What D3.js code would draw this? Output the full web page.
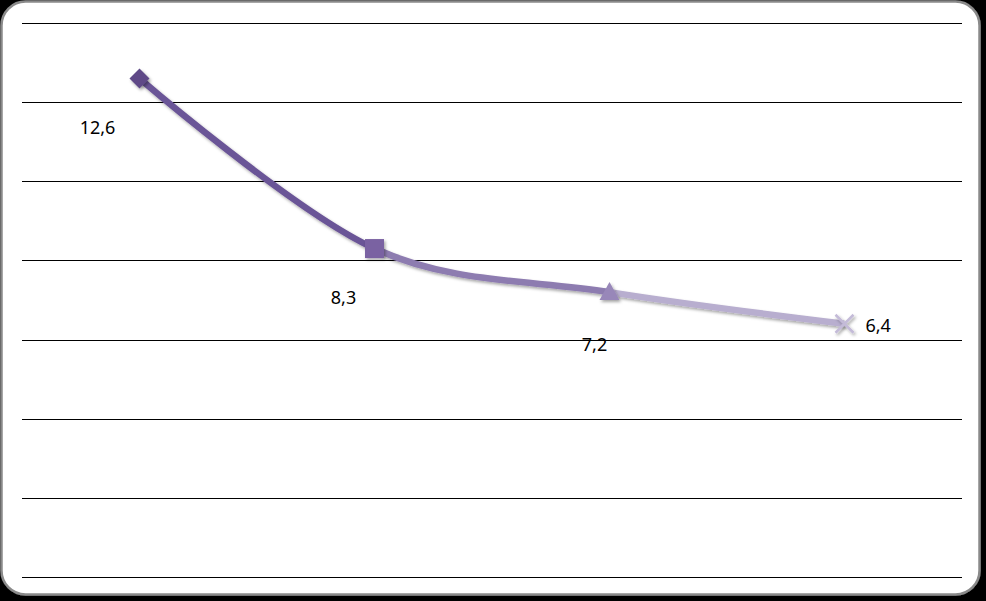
<!DOCTYPE html>
<html><head><meta charset="utf-8">
<script src="https://cdn.jsdelivr.net/npm/d3@7"></script>
<style>html,body{margin:0;padding:0;background:#000;}svg{display:block;}</style>
</head><body>
<svg id="chart" width="986" height="601"></svg>
<script>
const categories = ["1", "2", "3", "4"];
const values = [12.6, 8.3, 7.2, 6.4];
const valueLabels = ["12,6", "8,3", "7,2", "6,4"];
const yTicks = [0, 2, 4, 6, 8, 10, 12, 14];
const markerColors = ["#5e4a87", "#7a62a2", "#9887b9", "#c4bbd8"];
const segmentColors = ["#6b5497", "#8d7bb0", "#b8aecf"];
const markerTypes = ["diamond", "square", "triangle", "cross"];

const W = 986, H = 601;
const svg = d3.select("#chart");
const defs = svg.append("defs");
const sh = defs.append("filter").attr("id", "shadow").attr("x", "-20%").attr("y", "-20%").attr("width", "140%").attr("height", "140%");
sh.append("feDropShadow").attr("dx", 1.5).attr("dy", 2).attr("stdDeviation", 1.6).attr("flood-color", "#000").attr("flood-opacity", 0.35);
const fr = defs.append("filter").attr("id", "frameShadow");
fr.append("feDropShadow").attr("dx", 3).attr("dy", 3).attr("stdDeviation", 2).attr("flood-color", "#000").attr("flood-opacity", 0.8);

// frame
svg.append("rect").attr("x", 0).attr("y", 0).attr("width", W).attr("height", H).attr("fill", "#000");
svg.append("rect").attr("x", 1.5).attr("y", 1.5).attr("width", W - 8).attr("height", H - 8)
  .attr("rx", 24).attr("fill", "#fff").attr("stroke", "#8a8a8a").attr("stroke-width", 2.5)
  .attr("filter", "url(#frameShadow)");

const x = d3.scaleBand().domain(categories).range([22, 962]);
const y = d3.scaleLinear().domain([0, 14]).range([577, 23]);
const cx = c => x(c) + x.bandwidth() / 2;

// gridlines
svg.append("g").selectAll("line").data(yTicks).join("line")
  .attr("x1", 22).attr("x2", 962)
  .attr("y1", d => Math.round(y(d)) + 0.5).attr("y2", d => Math.round(y(d)) + 0.5)
  .attr("stroke", "#000").attr("stroke-width", 1);

const pts = categories.map((c, i) => [cx(c), y(values[i])]);
const lineGen = d3.line().curve(d3.curveCardinal.tension(0));
const pathD = lineGen(pts);

const lineG = svg.append("g").attr("filter", "url(#shadow)");
segmentColors.forEach((col, i) => {
  const cid = "clip" + i;
  defs.append("clipPath").attr("id", cid).append("rect")
    .attr("x", pts[i][0]).attr("y", 0).attr("width", pts[i + 1][0] - pts[i][0]).attr("height", H);
  lineG.append("path").attr("d", pathD).attr("fill", "none")
    .attr("stroke", col).attr("stroke-width", 6.5).attr("clip-path", `url(#${cid})`);
});

// markers
const mG = svg.append("g").attr("filter", "url(#shadow)");
pts.forEach((p, i) => {
  const t = markerTypes[i], col = markerColors[i];
  if (t === "diamond") {
    mG.append("path").attr("d", `M${p[0]},${p[1] - 10}L${p[0] + 10},${p[1]}L${p[0]},${p[1] + 10}L${p[0] - 10},${p[1]}Z`).attr("fill", col);
  } else if (t === "square") {
    mG.append("rect").attr("x", p[0] - 9.5).attr("y", p[1] - 9.5).attr("width", 19).attr("height", 19).attr("fill", col);
  } else if (t === "triangle") {
    mG.append("path").attr("d", `M${p[0]},${p[1] - 10}L${p[0] + 10},${p[1] + 8}L${p[0] - 10},${p[1] + 8}Z`).attr("fill", col);
  } else {
    mG.append("path").attr("d", `M${p[0] - 9},${p[1] - 9}L${p[0] + 9},${p[1] + 9}M${p[0] + 9},${p[1] - 9}L${p[0] - 9},${p[1] + 9}`)
      .attr("stroke", col).attr("stroke-width", 2.5).attr("fill", "none");
  }
});

// labels
const labelOffsets = [[-42, 56, "middle"], [-31, 55, "middle"], [-15, 59, "middle"], [21, 8, "start"]];
svg.append("g").selectAll("text").data(valueLabels).join("text")
  .attr("x", (d, i) => pts[i][0] + labelOffsets[i][0])
  .attr("y", (d, i) => pts[i][1] + labelOffsets[i][1])
  .attr("text-anchor", (d, i) => labelOffsets[i][2])
  .attr("font-family", "'Noto Sans', 'Open Sans', sans-serif").attr("font-size", 18)
  .attr("fill", "#000").text(d => d);
</script>
</body></html>
